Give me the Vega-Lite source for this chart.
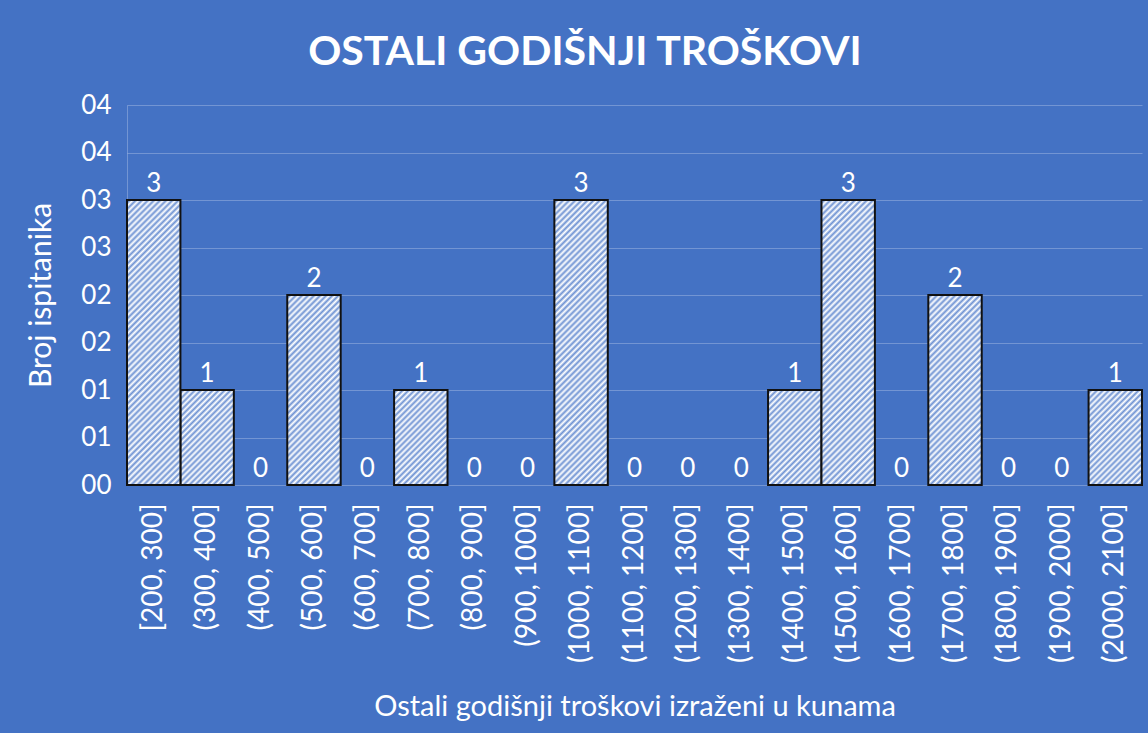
{
  "$schema": "https://vega.github.io/schema/vega-lite/v6.json",
  "width": 1015,
  "height": 380,
  "autosize": {"type": "none"},
  "padding": {"left": 127, "top": 105, "right": 6, "bottom": 248},
  "background": "#4472C4",
  "title": {"text": "OSTALI GODIŠNJI TROŠKOVI", "font": "Lato", "fontSize": 41, "fontWeight": "bold", "color": "#ffffff", "anchor": "middle", "frame": "bounds", "offset": 18},
  "config": {"view": {"stroke": null}, "font": "Lato"},
  "data": {"values": [
    {"bin": "[200, 300]", "count": 3},
    {"bin": "(300, 400]", "count": 1},
    {"bin": "(400, 500]", "count": 0},
    {"bin": "(500, 600]", "count": 2},
    {"bin": "(600, 700]", "count": 0},
    {"bin": "(700, 800]", "count": 1},
    {"bin": "(800, 900]", "count": 0},
    {"bin": "(900, 1000]", "count": 0},
    {"bin": "(1000, 1100]", "count": 3},
    {"bin": "(1100, 1200]", "count": 0},
    {"bin": "(1200, 1300]", "count": 0},
    {"bin": "(1300, 1400]", "count": 0},
    {"bin": "(1400, 1500]", "count": 1},
    {"bin": "(1500, 1600]", "count": 3},
    {"bin": "(1600, 1700]", "count": 0},
    {"bin": "(1700, 1800]", "count": 2},
    {"bin": "(1800, 1900]", "count": 0},
    {"bin": "(1900, 2000]", "count": 0},
    {"bin": "(2000, 2100]", "count": 1}
  ]},
  "encoding": {
    "x": {"field": "bin", "type": "nominal",
      "sort": ["[200, 300]", "(300, 400]", "(400, 500]", "(500, 600]", "(600, 700]", "(700, 800]", "(800, 900]", "(900, 1000]", "(1000, 1100]", "(1100, 1200]", "(1200, 1300]", "(1300, 1400]", "(1400, 1500]", "(1500, 1600]", "(1600, 1700]", "(1700, 1800]", "(1800, 1900]", "(1900, 2000]", "(2000, 2100]"],
      "scale": {"paddingInner": 0, "paddingOuter": 0},
      "axis": {"title": "Ostali godišnji troškovi izraženi u kunama", "labelAngle": -90, "labelColor": "#ffffff", "labelFont": "Lato", "labelFontSize": 28, "labelPadding": 18, "ticks": false, "domain": false, "grid": false, "titleColor": "#ffffff", "titleFont": "Lato", "titleFontSize": 29, "titleFontWeight": "normal", "titlePadding": 30}},
    "y": {"field": "count", "type": "quantitative", "scale": {"domain": [0, 4], "nice": false},
      "axis": {"title": "Broj ispitanika", "values": [0, 0.5, 1, 1.5, 2, 2.5, 3, 3.5, 4], "labelExpr": "'0' + round(datum.value)", "labelColor": "#ffffff", "labelFont": "Lato", "labelFontSize": 26, "labelPadding": 16, "ticks": false, "domain": true, "domainColor": "#ffffff", "domainOpacity": 0.25, "grid": true, "gridColor": "#ffffff", "gridOpacity": 0.25, "titleColor": "#ffffff", "titleFont": "Lato", "titleFontSize": 30, "titleFontWeight": "normal", "titlePadding": 24}}
  },
  "layer": [
    {
      "transform": [{"filter": "datum.count == 1"}],
      "mark": {"type": "bar", "stroke": "#111111", "strokeWidth": 2, "fill": {"gradient": "linear", "x1": 0, "y1": 0, "x2": 0.6675, "y2": 1.187, "stops": [
        {"offset": 0, "color": "#ffffff"}, {"offset": 0.02, "color": "#6f93d3"}, {"offset": 0.04, "color": "#ffffff"}, {"offset": 0.06, "color": "#6f93d3"}, {"offset": 0.08, "color": "#ffffff"}, {"offset": 0.1, "color": "#6f93d3"}, {"offset": 0.12, "color": "#ffffff"}, {"offset": 0.14, "color": "#6f93d3"}, {"offset": 0.16, "color": "#ffffff"}, {"offset": 0.18, "color": "#6f93d3"}, {"offset": 0.2, "color": "#ffffff"}, {"offset": 0.22, "color": "#6f93d3"}, {"offset": 0.24, "color": "#ffffff"}, {"offset": 0.26, "color": "#6f93d3"}, {"offset": 0.28, "color": "#ffffff"}, {"offset": 0.3, "color": "#6f93d3"}, {"offset": 0.32, "color": "#ffffff"}, {"offset": 0.34, "color": "#6f93d3"}, {"offset": 0.36, "color": "#ffffff"}, {"offset": 0.38, "color": "#6f93d3"}, {"offset": 0.4, "color": "#ffffff"}, {"offset": 0.42, "color": "#6f93d3"}, {"offset": 0.44, "color": "#ffffff"}, {"offset": 0.46, "color": "#6f93d3"}, {"offset": 0.48, "color": "#ffffff"}, {"offset": 0.5, "color": "#6f93d3"}, {"offset": 0.52, "color": "#ffffff"}, {"offset": 0.54, "color": "#6f93d3"}, {"offset": 0.56, "color": "#ffffff"}, {"offset": 0.58, "color": "#6f93d3"}, {"offset": 0.6, "color": "#ffffff"}, {"offset": 0.62, "color": "#6f93d3"}, {"offset": 0.64, "color": "#ffffff"}, {"offset": 0.66, "color": "#6f93d3"}, {"offset": 0.68, "color": "#ffffff"}, {"offset": 0.7, "color": "#6f93d3"}, {"offset": 0.72, "color": "#ffffff"}, {"offset": 0.74, "color": "#6f93d3"}, {"offset": 0.76, "color": "#ffffff"}, {"offset": 0.78, "color": "#6f93d3"}, {"offset": 0.8, "color": "#ffffff"}, {"offset": 0.82, "color": "#6f93d3"}, {"offset": 0.84, "color": "#ffffff"}, {"offset": 0.86, "color": "#6f93d3"}, {"offset": 0.88, "color": "#ffffff"}, {"offset": 0.9, "color": "#6f93d3"}, {"offset": 0.92, "color": "#ffffff"}, {"offset": 0.94, "color": "#6f93d3"}, {"offset": 0.96, "color": "#ffffff"}, {"offset": 0.98, "color": "#6f93d3"}, {"offset": 1, "color": "#ffffff"}
      ]}}
    },
    {
      "transform": [{"filter": "datum.count == 2"}],
      "mark": {"type": "bar", "stroke": "#111111", "strokeWidth": 2, "fill": {"gradient": "linear", "x1": 0, "y1": 0, "x2": 0.3338, "y2": 1.1873, "stops": [
        {"offset": 0, "color": "#ffffff"}, {"offset": 0.0125, "color": "#6f93d3"}, {"offset": 0.025, "color": "#ffffff"}, {"offset": 0.0375, "color": "#6f93d3"}, {"offset": 0.05, "color": "#ffffff"}, {"offset": 0.0625, "color": "#6f93d3"}, {"offset": 0.075, "color": "#ffffff"}, {"offset": 0.0875, "color": "#6f93d3"}, {"offset": 0.1, "color": "#ffffff"}, {"offset": 0.1125, "color": "#6f93d3"}, {"offset": 0.125, "color": "#ffffff"}, {"offset": 0.1375, "color": "#6f93d3"}, {"offset": 0.15, "color": "#ffffff"}, {"offset": 0.1625, "color": "#6f93d3"}, {"offset": 0.175, "color": "#ffffff"}, {"offset": 0.1875, "color": "#6f93d3"}, {"offset": 0.2, "color": "#ffffff"}, {"offset": 0.2125, "color": "#6f93d3"}, {"offset": 0.225, "color": "#ffffff"}, {"offset": 0.2375, "color": "#6f93d3"}, {"offset": 0.25, "color": "#ffffff"}, {"offset": 0.2625, "color": "#6f93d3"}, {"offset": 0.275, "color": "#ffffff"}, {"offset": 0.2875, "color": "#6f93d3"}, {"offset": 0.3, "color": "#ffffff"}, {"offset": 0.3125, "color": "#6f93d3"}, {"offset": 0.325, "color": "#ffffff"}, {"offset": 0.3375, "color": "#6f93d3"}, {"offset": 0.35, "color": "#ffffff"}, {"offset": 0.3625, "color": "#6f93d3"}, {"offset": 0.375, "color": "#ffffff"}, {"offset": 0.3875, "color": "#6f93d3"}, {"offset": 0.4, "color": "#ffffff"}, {"offset": 0.4125, "color": "#6f93d3"}, {"offset": 0.425, "color": "#ffffff"}, {"offset": 0.4375, "color": "#6f93d3"}, {"offset": 0.45, "color": "#ffffff"}, {"offset": 0.4625, "color": "#6f93d3"}, {"offset": 0.475, "color": "#ffffff"}, {"offset": 0.4875, "color": "#6f93d3"}, {"offset": 0.5, "color": "#ffffff"}, {"offset": 0.5125, "color": "#6f93d3"}, {"offset": 0.525, "color": "#ffffff"}, {"offset": 0.5375, "color": "#6f93d3"}, {"offset": 0.55, "color": "#ffffff"}, {"offset": 0.5625, "color": "#6f93d3"}, {"offset": 0.575, "color": "#ffffff"}, {"offset": 0.5875, "color": "#6f93d3"}, {"offset": 0.6, "color": "#ffffff"}, {"offset": 0.6125, "color": "#6f93d3"}, {"offset": 0.625, "color": "#ffffff"}, {"offset": 0.6375, "color": "#6f93d3"}, {"offset": 0.65, "color": "#ffffff"}, {"offset": 0.6625, "color": "#6f93d3"}, {"offset": 0.675, "color": "#ffffff"}, {"offset": 0.6875, "color": "#6f93d3"}, {"offset": 0.7, "color": "#ffffff"}, {"offset": 0.7125, "color": "#6f93d3"}, {"offset": 0.725, "color": "#ffffff"}, {"offset": 0.7375, "color": "#6f93d3"}, {"offset": 0.75, "color": "#ffffff"}, {"offset": 0.7625, "color": "#6f93d3"}, {"offset": 0.775, "color": "#ffffff"}, {"offset": 0.7875, "color": "#6f93d3"}, {"offset": 0.8, "color": "#ffffff"}, {"offset": 0.8125, "color": "#6f93d3"}, {"offset": 0.825, "color": "#ffffff"}, {"offset": 0.8375, "color": "#6f93d3"}, {"offset": 0.85, "color": "#ffffff"}, {"offset": 0.8625, "color": "#6f93d3"}, {"offset": 0.875, "color": "#ffffff"}, {"offset": 0.8875, "color": "#6f93d3"}, {"offset": 0.9, "color": "#ffffff"}, {"offset": 0.9125, "color": "#6f93d3"}, {"offset": 0.925, "color": "#ffffff"}, {"offset": 0.9375, "color": "#6f93d3"}, {"offset": 0.95, "color": "#ffffff"}, {"offset": 0.9625, "color": "#6f93d3"}, {"offset": 0.975, "color": "#ffffff"}, {"offset": 0.9875, "color": "#6f93d3"}, {"offset": 1, "color": "#ffffff"}
      ]}}
    },
    {
      "transform": [{"filter": "datum.count == 3"}],
      "mark": {"type": "bar", "stroke": "#111111", "strokeWidth": 2, "fill": {"gradient": "linear", "x1": 0, "y1": 0, "x2": 0.215, "y2": 1.1471, "stops": [
        {"offset": 0, "color": "#ffffff"}, {"offset": 0.009, "color": "#6f93d3"}, {"offset": 0.018, "color": "#ffffff"}, {"offset": 0.027, "color": "#6f93d3"}, {"offset": 0.036, "color": "#ffffff"}, {"offset": 0.045, "color": "#6f93d3"}, {"offset": 0.054, "color": "#ffffff"}, {"offset": 0.063, "color": "#6f93d3"}, {"offset": 0.072, "color": "#ffffff"}, {"offset": 0.081, "color": "#6f93d3"}, {"offset": 0.09, "color": "#ffffff"}, {"offset": 0.099, "color": "#6f93d3"}, {"offset": 0.108, "color": "#ffffff"}, {"offset": 0.117, "color": "#6f93d3"}, {"offset": 0.126, "color": "#ffffff"}, {"offset": 0.135, "color": "#6f93d3"}, {"offset": 0.144, "color": "#ffffff"}, {"offset": 0.153, "color": "#6f93d3"}, {"offset": 0.162, "color": "#ffffff"}, {"offset": 0.171, "color": "#6f93d3"}, {"offset": 0.18, "color": "#ffffff"}, {"offset": 0.189, "color": "#6f93d3"}, {"offset": 0.198, "color": "#ffffff"}, {"offset": 0.207, "color": "#6f93d3"}, {"offset": 0.216, "color": "#ffffff"}, {"offset": 0.225, "color": "#6f93d3"}, {"offset": 0.234, "color": "#ffffff"}, {"offset": 0.243, "color": "#6f93d3"}, {"offset": 0.252, "color": "#ffffff"}, {"offset": 0.261, "color": "#6f93d3"}, {"offset": 0.27, "color": "#ffffff"}, {"offset": 0.279, "color": "#6f93d3"}, {"offset": 0.288, "color": "#ffffff"}, {"offset": 0.297, "color": "#6f93d3"}, {"offset": 0.306, "color": "#ffffff"}, {"offset": 0.315, "color": "#6f93d3"}, {"offset": 0.324, "color": "#ffffff"}, {"offset": 0.333, "color": "#6f93d3"}, {"offset": 0.342, "color": "#ffffff"}, {"offset": 0.351, "color": "#6f93d3"}, {"offset": 0.36, "color": "#ffffff"}, {"offset": 0.369, "color": "#6f93d3"}, {"offset": 0.378, "color": "#ffffff"}, {"offset": 0.387, "color": "#6f93d3"}, {"offset": 0.396, "color": "#ffffff"}, {"offset": 0.405, "color": "#6f93d3"}, {"offset": 0.414, "color": "#ffffff"}, {"offset": 0.423, "color": "#6f93d3"}, {"offset": 0.432, "color": "#ffffff"}, {"offset": 0.441, "color": "#6f93d3"}, {"offset": 0.45, "color": "#ffffff"}, {"offset": 0.459, "color": "#6f93d3"}, {"offset": 0.468, "color": "#ffffff"}, {"offset": 0.477, "color": "#6f93d3"}, {"offset": 0.486, "color": "#ffffff"}, {"offset": 0.495, "color": "#6f93d3"}, {"offset": 0.504, "color": "#ffffff"}, {"offset": 0.513, "color": "#6f93d3"}, {"offset": 0.522, "color": "#ffffff"}, {"offset": 0.531, "color": "#6f93d3"}, {"offset": 0.54, "color": "#ffffff"}, {"offset": 0.549, "color": "#6f93d3"}, {"offset": 0.558, "color": "#ffffff"}, {"offset": 0.567, "color": "#6f93d3"}, {"offset": 0.576, "color": "#ffffff"}, {"offset": 0.585, "color": "#6f93d3"}, {"offset": 0.594, "color": "#ffffff"}, {"offset": 0.603, "color": "#6f93d3"}, {"offset": 0.612, "color": "#ffffff"}, {"offset": 0.621, "color": "#6f93d3"}, {"offset": 0.63, "color": "#ffffff"}, {"offset": 0.639, "color": "#6f93d3"}, {"offset": 0.648, "color": "#ffffff"}, {"offset": 0.657, "color": "#6f93d3"}, {"offset": 0.666, "color": "#ffffff"}, {"offset": 0.675, "color": "#6f93d3"}, {"offset": 0.684, "color": "#ffffff"}, {"offset": 0.693, "color": "#6f93d3"}, {"offset": 0.702, "color": "#ffffff"}, {"offset": 0.711, "color": "#6f93d3"}, {"offset": 0.72, "color": "#ffffff"}, {"offset": 0.729, "color": "#6f93d3"}, {"offset": 0.738, "color": "#ffffff"}, {"offset": 0.747, "color": "#6f93d3"}, {"offset": 0.756, "color": "#ffffff"}, {"offset": 0.765, "color": "#6f93d3"}, {"offset": 0.774, "color": "#ffffff"}, {"offset": 0.783, "color": "#6f93d3"}, {"offset": 0.792, "color": "#ffffff"}, {"offset": 0.801, "color": "#6f93d3"}, {"offset": 0.81, "color": "#ffffff"}, {"offset": 0.819, "color": "#6f93d3"}, {"offset": 0.828, "color": "#ffffff"}, {"offset": 0.837, "color": "#6f93d3"}, {"offset": 0.846, "color": "#ffffff"}, {"offset": 0.855, "color": "#6f93d3"}, {"offset": 0.864, "color": "#ffffff"}, {"offset": 0.873, "color": "#6f93d3"}, {"offset": 0.882, "color": "#ffffff"}, {"offset": 0.891, "color": "#6f93d3"}, {"offset": 0.9, "color": "#ffffff"}, {"offset": 0.909, "color": "#6f93d3"}, {"offset": 0.918, "color": "#ffffff"}, {"offset": 0.927, "color": "#6f93d3"}, {"offset": 0.936, "color": "#ffffff"}, {"offset": 0.945, "color": "#6f93d3"}, {"offset": 0.954, "color": "#ffffff"}, {"offset": 0.963, "color": "#6f93d3"}, {"offset": 0.972, "color": "#ffffff"}, {"offset": 0.981, "color": "#6f93d3"}, {"offset": 0.99, "color": "#ffffff"}, {"offset": 0.999, "color": "#6f93d3"}
      ]}}
    },
    {
      "mark": {"type": "text", "baseline": "alphabetic", "dy": -8, "fontSize": 26, "font": "Lato", "color": "#ffffff"},
      "encoding": {"text": {"field": "count", "type": "quantitative"}}
    }
  ]
}
